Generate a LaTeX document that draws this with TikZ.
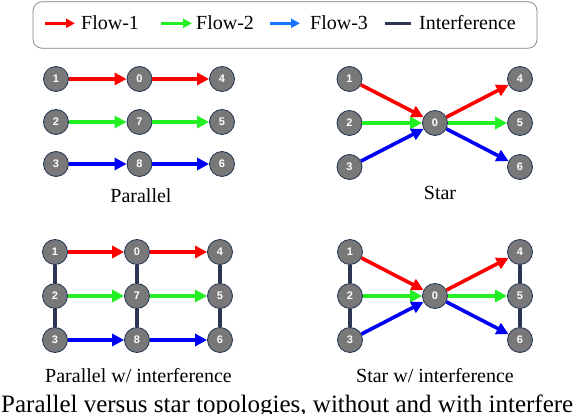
\documentclass[tikz,border=0pt]{standalone}
\usepackage{fontspec}
\setmainfont{Liberation Serif}
\setsansfont{Liberation Sans}
\usetikzlibrary{positioning, arrows.meta}

\definecolor{flowred}{HTML}{FF0000}
\definecolor{flowgreen}{HTML}{22F022}
\definecolor{flowblue}{HTML}{0000F5}
\definecolor{legblue}{HTML}{1A73FF}
\definecolor{intfnavy}{HTML}{2C3652}
\definecolor{hostgray}{HTML}{787878}
\definecolor{hostedge}{HTML}{1E3050}

\begin{document}
\begin{tikzpicture}[
    x=1pt, y=-1pt,
    >={Triangle[length=12pt, width=12pt]},
    host/.style={circle, draw=hostedge, line width=0.8pt, fill=hostgray,
                 minimum size=25pt, inner sep=0pt, text=white,
                 font=\sffamily\bfseries\fontsize{11}{11}\selectfont},
    flow/.style={->, line width=3.6pt},
    fone/.style={flow, flowred},
    ftwo/.style={flow, flowgreen},
    fthree/.style={flow, flowblue},
    intf/.style={line width=3.6pt, intfnavy},
    legarrow/.style={-{Triangle[length=9pt, width=9pt]}, line width=2.8pt},
    legtext/.style={anchor=base west, inner sep=0pt, font=\fontsize{20}{20}\selectfont},
    title/.style={font=\fontsize{20}{20}\selectfont}
]
  \useasboundingbox (0,0) rectangle (574,414);
  \clip (0,0) rectangle (574,414);

  % Legend
  \node[draw=black!50, line width=0.7pt, rounded corners=9pt,
        minimum width=504pt, minimum height=46.5pt] (legend) at (285,25) {};
  \coordinate (l1a) at (45,23.3);  \coordinate (l1b) at (75,23.3);
  \coordinate (l2a) at (161,23.3); \coordinate (l2b) at (192,23.3);
  \coordinate (l3a) at (270,23.3); \coordinate (l3b) at (300,23.3);
  \coordinate (l4a) at (385,23.3); \coordinate (l4b) at (411,23.3);
  \draw[legarrow, flowred] (l1a) -- (l1b);
  \draw[legarrow, flowgreen] (l2a) -- (l2b);
  \draw[legarrow, legblue] (l3a) -- (l3b);
  \draw[line width=2.8pt, intfnavy] (l4a) -- (l4b);
  \node[legtext] (leg1) at (81,30) {Flow-1};
  \node[legtext] (leg2) at (196,30) {Flow-2};
  \node[legtext] (leg3) at (310,30) {Flow-3};
  \node[legtext] (leg4) at (419,30) {Interference};

  % Parallel
  \node[host] (p1) at (56,79) {1};
  \node[host] (p0) at (139.5,79) {0};
  \node[host] (p4) at (222,79) {4};
  \node[host] (p2) at (56,122) {2};
  \node[host] (p7) at (139.5,122) {7};
  \node[host] (p5) at (222,122) {5};
  \node[host] (p3) at (56,164) {3};
  \node[host] (p8) at (139.5,164) {8};
  \node[host] (p6) at (222,164) {6};
  \draw[fone] (p1) -- (p0);
  \draw[fone] (p0) -- (p4);
  \draw[ftwo] (p2) -- (p7);
  \draw[ftwo] (p7) -- (p5);
  \draw[fthree] (p3) -- (p8);
  \draw[fthree] (p8) -- (p6);
  \node[title] (ptitle) at (141,196) {Parallel};

  % Star
  \node[host] (s1) at (349.5,79) {1};
  \node[host] (s2) at (349.5,123) {2};
  \node[host] (s3) at (349.5,167) {3};
  \node[host] (s0) at (435,123) {0};
  \node[host] (s4) at (520,79) {4};
  \node[host] (s5) at (520,123) {5};
  \node[host] (s6) at (520,167) {6};
  \draw[fone] (s1) -- (s0);
  \draw[ftwo] (s2) -- (s0);
  \draw[fthree] (s3) -- (s0);
  \draw[fone] (s0) -- (s4);
  \draw[ftwo] (s0) -- (s5);
  \draw[fthree] (s0) -- (s6);
  \node[title] (stitle) at (440,193) {Star};

  % Parallel w/ interference
  \node[host] (q1) at (55,252) {1};
  \node[host] (q0) at (137,252) {0};
  \node[host] (q4) at (220,252) {4};
  \node[host] (q2) at (55,296) {2};
  \node[host] (q7) at (137,296) {7};
  \node[host] (q5) at (220,296) {5};
  \node[host] (q3) at (55,340) {3};
  \node[host] (q8) at (137,340) {8};
  \node[host] (q6) at (220,340) {6};
  \draw[intf] (q1) -- (q2);
  \draw[intf] (q2) -- (q3);
  \draw[intf] (q0) -- (q7);
  \draw[intf] (q7) -- (q8);
  \draw[intf] (q4) -- (q5);
  \draw[intf] (q5) -- (q6);
  \draw[fone] (q1) -- (q0);
  \draw[fone] (q0) -- (q4);
  \draw[ftwo] (q2) -- (q7);
  \draw[ftwo] (q7) -- (q5);
  \draw[fthree] (q3) -- (q8);
  \draw[fthree] (q8) -- (q6);
  \node[title] (qtitle) at (138.5,376) {Parallel w/ interference};

  % Star w/ interference
  \node[host] (t1) at (350,252) {1};
  \node[host] (t2) at (350,296) {2};
  \node[host] (t3) at (350,340) {3};
  \node[host] (t0) at (435,296) {0};
  \node[host] (t4) at (520,252) {4};
  \node[host] (t5) at (520,296) {5};
  \node[host] (t6) at (520,340) {6};
  \draw[intf] (t1) -- (t2);
  \draw[intf] (t2) -- (t3);
  \draw[intf] (t4) -- (t5);
  \draw[intf] (t5) -- (t6);
  \draw[fone] (t1) -- (t0);
  \draw[ftwo] (t2) -- (t0);
  \draw[fthree] (t3) -- (t0);
  \draw[fone] (t0) -- (t4);
  \draw[ftwo] (t0) -- (t5);
  \draw[fthree] (t0) -- (t6);
  \node[title] (ttitle) at (435,376) {Star w/ interference};

  % Caption (cut by the page edge, as in the source)
  \node[anchor=base west, inner sep=0pt, font=\fontsize{25}{25}\selectfont]
    (caption) at (1,413) {Parallel versus star topologies, without and with interfere};
\end{tikzpicture}
\end{document}
